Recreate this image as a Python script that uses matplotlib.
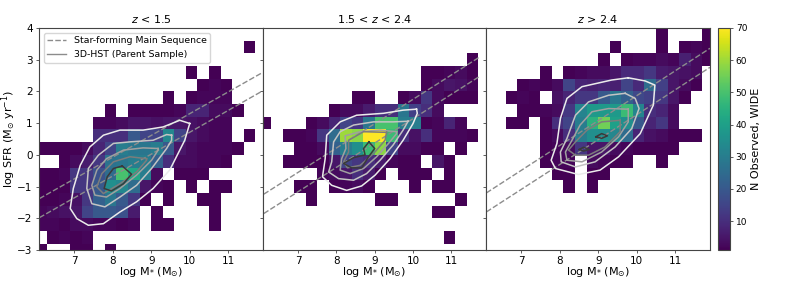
import numpy as np
import matplotlib
matplotlib.use('Agg')
import matplotlib.pyplot as plt

# bin edges of the 2d histograms
xedges = [6.0 + 0.3*i for i in range(21)]
yedges = [4.0 - 0.4*i for i in range(19)]

# counts, rows run from top (SFR=4) to bottom
counts_low = [
 [0,0,0,0,0,0,0,0,0,0,0,0,0,0,0,0,0,0,0,0],
 [0,0,0,0,0,0,0,0,0,0,0,0,0,0,0,0,0,0,1,0],
 [0,0,0,0,0,0,0,0,0,0,0,0,0,0,0,0,0,0,0,0],
 [0,0,0,0,0,0,0,0,0,0,0,0,0,1,0,1,0,0,0,0],
 [0,0,0,0,0,0,0,0,0,0,0,0,0,0,1,2,1,0,0,0],
 [0,0,0,0,0,0,0,0,0,0,0,1,0,1,2,2,2,0,0,0],
 [0,0,0,0,0,0,1,0,1,1,1,1,2,8,8,3,3,1,0,0],
 [0,0,0,0,0,2,2,3,5,5,4,5,5,4,3,2,2,0,0,0],
 [0,0,0,0,0,10,10,10,20,15,15,33,15,5,3,2,2,0,1,0],
 [1,1,1,1,3,8,15,30,28,28,30,20,5,3,2,2,2,1,0,0],
 [0,0,1,3,6,12,27,28,30,30,22,10,3,3,2,2,1,0,0,0],
 [1,1,2,12,12,18,25,50,42,30,3,0,1,1,1,0,0,0,0,0],
 [1,1,1,12,12,20,35,33,25,5,2,1,0,1,0,1,1,0,0,0],
 [1,1,2,4,12,22,28,20,12,1,0,1,0,0,1,1,0,0,0,0],
 [2,3,4,5,15,20,20,18,6,0,1,0,0,0,0,1,0,0,0,0],
 [2,2,1,3,3,2,2,1,2,0,1,1,0,0,0,1,0,0,0,0],
 [0,1,2,1,2,0,0,0,0,0,0,0,0,0,0,0,0,0,0,0],
 [1,0,0,1,1,0,1,0,0,0,0,0,0,0,0,0,0,0,0,0],
]
counts_mid = [
 [0,0,0,0,0,0,0,0,0,0,0,0,0,0,0,0,0,0,0,0],
 [0,0,0,0,0,0,0,0,0,0,0,0,0,0,0,0,0,0,0,0],
 [0,0,0,0,0,0,0,0,0,0,0,0,0,0,0,0,0,0,1,0],
 [0,0,0,0,0,0,0,0,0,0,0,0,0,0,1,1,2,3,1,0],
 [0,0,0,0,0,0,0,0,0,0,0,0,0,0,1,3,5,4,2,0],
 [0,0,0,0,0,0,0,0,1,1,0,0,1,3,12,3,1,1,1,0],
 [0,0,0,0,0,0,1,3,3,6,10,10,28,14,10,3,0,0,0,0],
 [1,0,0,0,1,3,8,15,12,28,50,50,30,30,1,2,8,2,0,0],
 [0,0,1,1,2,12,25,60,58,70,70,48,10,4,10,2,2,2,1,0],
 [0,0,0,1,1,3,22,30,35,48,58,15,3,3,1,1,0,1,0,0],
 [0,0,1,1,1,1,5,15,12,10,6,2,1,1,0,5,1,0,0,0],
 [0,0,0,0,0,2,3,5,10,6,1,0,1,1,1,0,1,0,0,0],
 [0,0,0,1,1,0,1,2,3,1,0,0,0,1,0,1,1,0,0,0],
 [0,0,0,0,1,0,0,0,0,0,1,1,0,0,0,0,0,1,0,0],
 [0,0,0,0,0,0,0,0,0,0,0,0,0,0,0,1,1,0,0,0],
 [0,0,0,0,0,0,0,0,0,0,0,0,0,0,0,0,0,0,0,0],
 [0,0,0,0,0,0,0,0,0,0,0,0,0,0,0,0,1,0,0,0],
 [0,0,0,0,0,0,0,0,0,0,0,0,0,0,0,0,0,0,0,0],
]
counts_high = [
 [0,0,0,0,0,0,0,0,0,0,0,0,0,0,0,1,0,0,0,1],
 [0,0,0,0,0,0,0,0,0,0,0,1,0,0,0,1,0,1,2,1],
 [0,0,0,0,0,0,0,0,0,0,1,0,1,2,2,3,2,7,3,1],
 [0,0,0,0,0,1,0,1,2,3,3,5,9,9,12,6,5,4,3,0],
 [0,0,0,1,2,1,3,15,8,7,8,7,15,9,25,14,5,3,1,0],
 [0,0,1,2,1,0,4,8,12,12,20,28,22,16,14,12,5,1,0,0],
 [0,0,0,1,1,2,3,12,32,38,38,38,48,32,10,8,3,0,0,0],
 [0,0,1,1,0,1,10,15,30,45,55,40,35,20,8,12,3,0,0,0],
 [0,0,0,0,0,1,3,10,30,35,35,33,25,8,4,3,1,1,1,0],
 [0,0,0,0,0,1,2,3,12,5,5,3,2,1,1,1,1,0,0,0],
 [0,0,0,0,0,1,2,2,0,3,2,1,1,0,0,1,0,0,0,0],
 [0,0,0,0,0,0,1,1,0,1,1,0,0,0,0,0,0,0,0,0],
 [0,0,0,0,0,0,0,1,0,1,0,0,0,0,0,0,0,0,0,0],
 [0]*20, [0]*20, [0]*20, [0]*20, [0]*20,
]

# main sequence lines, x ends and upper/lower y
ms_low_x = [6.1, 11.85]
ms_low_up = [-1.38, 2.57]
ms_low_dn = [-1.98, 1.99]
ms_mid_x = [6.11, 11.74]
ms_mid_up = [-1.24, 3.09]
ms_mid_dn = [-1.85, 2.48]
ms_high_x = [6.1, 11.9]
ms_high_up = [-1.2, 3.36]
ms_high_dn = [-1.8, 2.76]

# 3D-HST contours, outermost first
low_c1 = ([10.0,9.74,9.31,8.79,8.19,7.76,7.41,7.16,6.98,6.9,7.07,7.37,7.76,8.19,8.62,9.05,9.48,9.87,10.0],
          [0.99,1.09,0.88,0.78,0.78,0.62,0.25,-0.33,-1.06,-1.69,-2.01,-2.22,-2.17,-1.8,-1.48,-1.06,-0.48,0.46,0.99])
low_c2 = ([9.53,9.4,9.05,8.45,8.02,7.63,7.37,7.33,7.46,7.8,8.19,8.62,9.01,9.4,9.53,9.53],
          [0.62,0.64,0.46,0.41,0.36,-0.01,-0.43,-1.06,-1.54,-1.64,-1.33,-0.96,-0.43,0.2,0.46,0.62])
low_c3 = ([9.18,8.79,8.28,7.84,7.59,7.46,7.54,7.84,8.19,8.62,9.01,9.18,9.18],
          [0.2,0.22,0.15,-0.12,-0.48,-0.96,-1.27,-1.33,-1.06,-0.64,-0.17,0.15,0.2])
low_c4 = ([8.88,8.45,8.02,7.72,7.59,7.76,8.19,8.62,8.88,8.88],
          [-0.12,-0.06,-0.22,-0.59,-1.01,-1.22,-0.91,-0.54,-0.17,-0.12])
low_c5 = ([8.25,8.02,7.86,7.78,7.97,8.28,8.49,8.25],
          [-0.35,-0.43,-0.69,-1.06,-1.14,-0.91,-0.61,-0.35])

mid_c1 = ([10.09,9.74,9.23,8.53,8.1,7.75,7.71,7.64,7.88,8.27,8.66,9.01,9.4,9.74,10.0,10.11,10.09],
          [1.44,1.41,1.31,1.25,1.04,0.62,-0.12,-0.69,-0.96,-1.12,-0.98,-0.64,-0.12,0.46,0.99,1.31,1.44])
mid_c2 = ([9.87,9.48,8.97,8.45,8.1,7.93,7.88,7.8,8.06,8.45,8.79,9.14,9.48,9.74,9.87],
          [1.06,1.04,1.04,0.94,0.73,0.41,-0.22,-0.54,-0.75,-0.8,-0.59,-0.17,0.31,0.78,1.06])
mid_c3 = ([9.57,9.14,8.62,8.23,8.25,8.14,8.1,8.36,8.71,9.05,9.36,9.57,9.57],
          [0.73,0.78,0.73,0.6,0.2,-0.12,-0.48,-0.59,-0.43,-0.06,0.36,0.67,0.73])
mid_c4 = ([9.31,8.71,8.32,8.32,8.19,8.29,8.62,8.97,9.27,9.31],
          [0.71,0.73,0.46,0.09,-0.22,-0.41,-0.33,0.04,0.46,0.71])
mid_c5 = ([8.85,8.71,8.75,8.45,8.19,8.4,8.66,8.84,9.0,8.85],
          [0.41,0.2,0.0,-0.09,-0.27,-0.41,-0.41,-0.06,0.2,0.41])

high_c1 = ([9.78,9.35,8.58,8.19,8.02,7.93,7.78,7.89,8.49,9.05,9.53,10.09,10.43,10.47,10.22,9.78],
           [2.43,2.36,2.15,1.78,1.15,0.36,-0.17,-0.43,-0.62,-0.48,-0.06,0.67,1.57,2.2,2.33,2.43])
high_c2 = ([9.7,9.27,8.75,8.41,8.19,8.02,8.04,8.41,8.92,9.44,9.87,10.06,9.96,9.7],
           [1.94,1.88,1.67,1.25,0.52,0.09,-0.22,-0.38,-0.22,0.25,0.83,1.46,1.78,1.94])
high_c3 = ([9.78,9.27,8.84,8.53,8.32,8.15,8.19,8.58,9.09,9.53,9.78,9.78],
           [1.44,1.46,1.36,0.94,0.46,0.09,-0.17,-0.22,0.09,0.57,1.04,1.44])
high_c4 = ([9.57,9.09,8.71,8.41,8.23,8.41,8.75,9.18,9.57,9.57],
           [1.09,1.04,0.78,0.41,0.15,-0.01,-0.01,0.25,0.73,1.09])
high_c5a = ([8.94,9.09,9.24,9.09,8.94], [0.57,0.67,0.6,0.52,0.57])
high_c5b = ([8.51,8.62,8.77,8.62,8.51], [0.17,0.24,0.17,0.12,0.17])

titles = ['$z$ < 1.5', '1.5 < $z$ < 2.4', '$z$ > 2.4']
xticks = [7, 8, 9, 10, 11]
yticks = [-3, -2, -1, 0, 1, 2, 3, 4]
cbar_ticks = [10, 20, 30, 40, 50, 60, 70]

W, H = 789.0, 282.0
fs = 7.5
level_cols = ['#ebebeb', '#c4c4c4', '#a0a0a0', '#7c7c7c', '#3a3a3a', '#3a3a3a']
edge_col = '#444444'
ms_col = '#8c8c8c'

fig = plt.figure(figsize=(W/100, H/100))
ax1 = fig.add_axes([39/W, 1-250/H, 224/W, 222/H])
ax2 = fig.add_axes([263/W, 1-250/H, 223/W, 222/H])
ax3 = fig.add_axes([486/W, 1-250/H, 224/W, 222/H])
cax = fig.add_axes([718/W, 1-250/H, 11.5/W, 222/H])

panels = [
    (ax1, counts_low, ms_low_x, ms_low_up, ms_low_dn, [low_c1, low_c2, low_c3, low_c4, low_c5]),
    (ax2, counts_mid, ms_mid_x, ms_mid_up, ms_mid_dn, [mid_c1, mid_c2, mid_c3, mid_c4, mid_c5]),
    (ax3, counts_high, ms_high_x, ms_high_up, ms_high_dn, [high_c1, high_c2, high_c3, high_c4, high_c5a, high_c5b]),
]

for i, (ax, counts, msx, up, dn, conts) in enumerate(panels):
    z = np.ma.masked_equal(np.array(counts, dtype=float), 0)
    mesh = ax.pcolormesh(xedges, yedges, z, cmap='viridis', vmin=1, vmax=70)
    ax.plot(msx, up, color=ms_col, ls='--', lw=1.0, dashes=(4, 1.6))
    ax.plot(msx, dn, color=ms_col, ls='--', lw=1.0, dashes=(4, 1.6))
    for c, col in zip(conts, level_cols):
        ax.plot(c[0], c[1], color=col, lw=1.1)
    ax.set_xlim(6.09, 11.9)
    ax.set_ylim(-3, 4)
    ax.set_xticks(xticks)
    ax.set_yticks(yticks)
    ax.tick_params(labelsize=fs, length=2.5, width=0.6, pad=2, color='#444444')
    ax.set_xlabel('log M$_{*}$ (M$_{\\odot}$)', fontsize=fs+0.5, labelpad=-1)
    ax.set_title(titles[i], fontsize=fs+0.5, pad=3.5)
    for s in ax.spines.values():
        s.set_linewidth(0.8)
        s.set_color(edge_col)
    if i > 0:
        ax.tick_params(labelleft=False)

ax1.set_ylabel('log SFR (M$_{\\odot}$ yr$^{-1}$)', fontsize=fs+0.5)
ax1.yaxis.set_label_coords(-0.095, 0.5)
h1, = ax1.plot([], [], color=ms_col, ls='--', lw=1.0, dashes=(4, 1.6))
h2, = ax1.plot([], [], color=ms_col, lw=1.0)
ax1.legend([h1, h2], ['Star-forming Main Sequence', '3D-HST (Parent Sample)'], loc='upper left',
           fontsize=6.75, borderaxespad=0.5)

cb = fig.colorbar(mesh, cax=cax)
cb.set_ticks(cbar_ticks)
cb.ax.tick_params(labelsize=fs-1, length=2.5, width=0.6, pad=2, color='#444444')
cb.set_label('N Observed, WIDE', fontsize=fs+0.5, labelpad=3)
cb.outline.set_linewidth(0.8)
cb.outline.set_edgecolor(edge_col)

plt.savefig('out.png', dpi=100)
